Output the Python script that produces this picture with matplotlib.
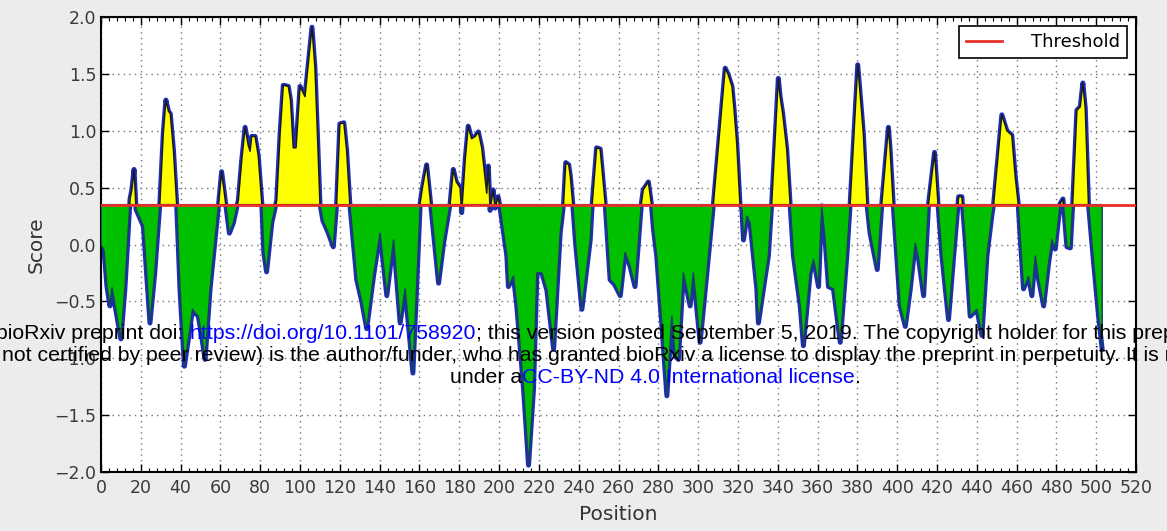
"""Epitope score along the protein sequence, with threshold"""

import matplotlib
matplotlib.use('Agg')
import matplotlib.pyplot as plt
from matplotlib.ticker import MultipleLocator

# values (position, score)
positions = [0, 1.5, 3, 4.5, 5.5, 8, 10, 12, 14.6, 15.5, 16.6, 17.6, 19.6, 21.3, 24.6, 27,
             29.6, 31.3, 32.6, 33.9, 34.8, 36.4, 38, 39.7, 41.9, 43.9, 46, 47.2, 48.9, 50.5,
             52.3, 54.8, 59, 60.6, 62.5, 64.5, 66.5, 69, 70.7, 72.4, 74, 74.9, 75.7, 77.4, 79,
             80.8, 81.8, 83.2, 85.8, 88.3, 90, 91.6, 94.1, 95.2, 96.6, 98, 100, 102.5, 106,
             107.5, 109, 110, 111.5, 114, 116.7, 118.4, 120, 122, 123.4, 125, 128.5, 131,
             133.5, 136.9, 140.2, 143.6, 147, 150.3, 152.8, 156.7, 160.4, 161.5, 163.6, 164.5,
             165.6, 169.6, 172.1, 175.4, 177, 178.5, 180.4, 181.2, 183, 184.5, 186.2, 188,
             189.6, 191.3, 193.8, 194.6, 195.5, 197, 198, 199.5, 200.6, 203.9, 204.7, 207.2,
             208.9, 212.3, 214.8, 217.3, 219, 221.5, 224, 227.4, 230.7, 232.4, 233.5, 235,
             235.8, 237, 238.5, 241.6, 245.8, 246.8, 249, 250.8, 253.3, 255.8, 258, 260.9,
             263.3, 265.8, 268.3, 271.5, 272.4, 275, 276.5, 277.6, 279.2, 281.7, 284.3, 286.8,
             288.4, 290.1, 292.6, 296, 297.6, 301, 304.4, 307.7, 313.6, 315, 317, 318, 319.4,
             321, 322, 322.8, 324.5, 326.1, 329.5, 330.3, 332.8, 335.3, 337, 340.3, 341.2,
             342.5, 344.5, 346.2, 347.9, 351.3, 352.9, 356.3, 358, 360.5, 362.1, 363.8, 365.5,
             368, 371.4, 374.7, 376.4, 380.2, 383, 384.8, 386.4, 390, 392.3, 395.6, 396.4, 398,
             401.5, 404.1, 406.6, 409.1, 410.8, 413.3, 415.8, 418.8, 420.5, 422.5, 425.8,
             428.4, 430.9, 432.5, 434.2, 436.7, 440.1, 442.6, 445.1, 447.6, 448.5, 452.6,
             455.1, 457.6, 459.3, 460.8, 461.9, 463.5, 466, 467.7, 469.4, 471.1, 473.6, 476.1,
             477.8, 479.4, 481.9, 483.3, 485.3, 487, 488.2, 490.3, 492, 493.3, 494.5, 496.1,
             498.7, 501.2, 503]
scores = [0.0, -0.05, -0.37, -0.54, -0.38, -0.63, -0.83, -0.39, 0.40, 0.48, 0.66, 0.31, 0.23,
          0.16, -0.69, -0.25, 0.37, 0.98, 1.27, 1.17, 1.15, 0.83, 0.36, -0.40, -1.07, -0.83,
          -0.57, -0.60, -0.63, -0.80, -1.01, -0.39, 0.34, 0.64, 0.38, 0.10, 0.19, 0.39, 0.74,
          1.03, 0.87, 0.82, 0.95, 0.95, 0.78, 0.36, -0.07, -0.24, 0.19, 0.39, 0.98, 1.40, 1.39,
          1.27, 0.85, 0.85, 1.39, 1.30, 1.91, 1.55, 0.85, 0.36, 0.21, 0.11, -0.02, 0.36, 1.06,
          1.07, 0.83, 0.36, -0.31, -0.50, -0.74, -0.28, 0.10, -0.45, 0.04, -0.69, -0.39, -1.13,
          0.37, 0.50, 0.70, 0.55, 0.36, -0.34, 0.01, 0.36, 0.66, 0.55, 0.50, 0.28, 0.75, 1.04,
          0.93, 0.95, 0.99, 0.85, 0.45, 0.69, 0.30, 0.48, 0.32, 0.42, 0.31, -0.10, -0.37, -0.28,
          -0.54, -1.27, -1.94, -1.27, -0.25, -0.25, -0.40, -0.92, 0.10, 0.36, 0.72, 0.70, 0.60,
          0.36, 0.0, -0.57, 0.04, 0.36, 0.85, 0.84, 0.36, -0.31, -0.35, -0.45, -0.07, -0.19,
          -0.37, 0.36, 0.48, 0.55, 0.36, 0.13, -0.10, -0.69, -1.33, -0.63, -0.98, -1.01, -0.25,
          -0.54, -0.25, -0.86, -0.25, 0.36, 1.55, 1.50, 1.39, 1.20, 0.89, 0.36, 0.31, 0.04,
          0.25, 0.19, -0.39, -0.69, -0.39, -0.10, 0.37, 1.46, 1.30, 1.15, 0.84, 0.36, -0.10,
          -0.54, -0.89, -0.25, -0.13, -0.37, 0.34, 0.04, -0.37, -0.39, -0.86, -0.10, 0.36, 1.58,
          0.98, 0.36, 0.10, -0.22, 0.36, 1.03, 0.85, 0.36, -0.54, -0.72, -0.39, 0.01, -0.13,
          -0.45, 0.36, 0.81, 0.36, -0.10, -0.66, -0.10, 0.42, 0.42, 0.04, -0.63, -0.57, -0.80,
          -0.10, 0.26, 0.36, 1.14, 1.00, 0.96, 0.60, 0.36, 0.04, -0.39, -0.28, -0.45, -0.10,
          -0.31, -0.54, -0.16, 0.04, -0.04, 0.36, 0.40, -0.02, -0.03, 0.36, 1.18, 1.21, 1.42,
          1.20, 0.36, -0.16, -0.63, -0.92]
threshold = 0.35

x_ticks = list(range(0, 521, 20))
y_ticks = [-2.0, -1.5, -1.0, -0.5, 0.0, 0.5, 1.0, 1.5, 2.0]

W, H = 1167, 531
fig = plt.figure(figsize=(W / 100, H / 100), dpi=100, facecolor='#ececec')
ax = fig.add_axes([101 / W, 59 / H, 1035 / W, 455 / H])
ax.set_facecolor('white')

# blue score line underneath, filled regions with dark edges on top of it
ax.plot(positions, scores, color='#1e2db8', linewidth=3.6, zorder=2)
thr = [threshold] * len(positions)
above = [s >= threshold for s in scores]
below = [s <= threshold for s in scores]
ax.fill_between(positions, scores, thr, where=above, interpolate=True,
                facecolor='#ffff00', edgecolor='#1a1a1a', linewidth=1.1, zorder=3)
ax.fill_between(positions, scores, thr, where=below, interpolate=True,
                facecolor='#00c000', edgecolor='#1a3f66', linewidth=1.1, zorder=3)
ax.axhline(threshold, color='#e8302a', linewidth=2, label='Threshold', zorder=4)

ax.set_xlim(0, 520)
ax.set_ylim(-2.0, 2.0)
ax.set_xticks(x_ticks)
ax.set_yticks(y_ticks)
ax.xaxis.set_minor_locator(MultipleLocator(4))
ax.tick_params(which='both', direction='in', top=True, right=True, colors='black',
               labelcolor='#3a3a3a', labelsize=12.5)
ax.tick_params(which='major', length=6, width=1)
ax.tick_params(which='minor', length=3, width=0.8)
ax.tick_params(axis='x', pad=5)
ax.grid(True, which='major', color='0.45', linestyle=(0, (1, 3)), linewidth=1)
ax.set_axisbelow(True)
for sp in ax.spines.values():
    sp.set_linewidth(1.5)

ax.set_xlabel('Position', fontsize=14.5, color='#333333', labelpad=6)
ax.set_ylabel('Score', fontsize=14.5, color='#333333', labelpad=6)

leg = ax.legend(loc='upper right', fontsize=13, fancybox=False, framealpha=1,
                edgecolor='black', handlelength=2.0, handletextpad=1.6, borderaxespad=0.5)
leg.get_frame().set_linewidth(1.2)

# preprint watermark on top of everything
wm = dict(family=['Liberation Sans', 'DejaVu Sans'], fontsize=15.35, zorder=10)


def line_of_text(x_px, base_px, pieces):
    t = fig.text(x_px / W, 1 - base_px / H, pieces[0][0], color=pieces[0][1],
                 va='baseline', **wm)
    for s, c in pieces[1:]:
        t = ax.annotate(s, xy=(1, 0), xycoords=t, va='bottom', color=c,
                        annotation_clip=False, **wm)


line_of_text(-4, 339, [('bioRxiv preprint doi: ', 'black'),
                       ('https://doi.org/10.1101/758920', '#0000ff'),
                       ('; this version posted September 5, 2019. The copyright holder '
                        'for this preprint (which was', 'black')])
line_of_text(2, 361, [('not certified by peer review) is the author/funder, who has granted '
                       'bioRxiv a license to display the preprint in perpetuity. It is made '
                       'available', 'black')])
line_of_text(450, 383, [('under a', 'black'),
                        ('CC-BY-ND 4.0 International license', '#0000ff'),
                        ('.', 'black')])

fig.savefig('out.png', dpi=100, facecolor=fig.get_facecolor())
